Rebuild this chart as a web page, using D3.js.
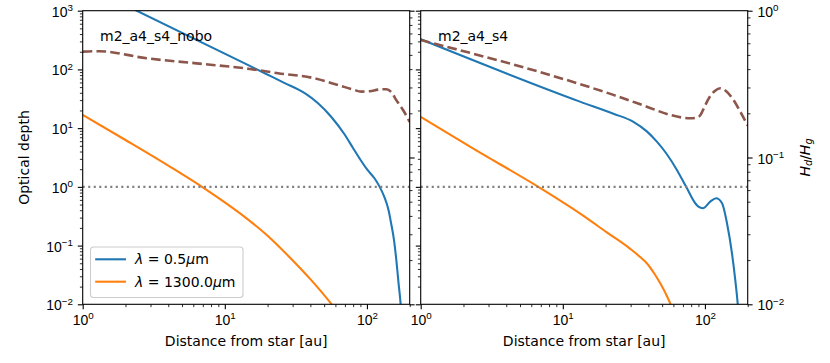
<!DOCTYPE html>
<html>
<head>
<meta charset="utf-8">
<script src="https://cdn.jsdelivr.net/npm/d3@7"></script>
<style>
  body { margin: 0; background: #fff; }
  svg { font-family: "DejaVu Sans", sans-serif; }
</style>
</head>
<body>
<div id="chart"></div>
<script>
// values (distance in au, optical depth, Hd/Hg)
// left panel: m2_a4_s4_nobo
const noboR05    = [1, 13.8, 19.1, 26.4, 36.5, 45.3, 56.2, 69.7, 79.8, 90, 100, 113, 123, 133, 142, 148, 155, 161, 167, 172.5, 176];
const noboTau05  = [2800, 127, 86, 58.5, 39.3, 26.5, 15.5, 7.8, 4.6, 2.9, 2.0, 1.40, 1.0, 0.66, 0.40, 0.24, 0.125, 0.057, 0.0228, 0.0104, 0.005];
const noboR1300  = [1, 2, 4, 7, 10, 14, 20, 28, 40, 56, 64];
const noboTau1300 = [16.8, 6.28, 2.30, 0.982, 0.545, 0.30, 0.147, 0.0666, 0.0268, 0.0103, 0.0069];
const noboRH     = [1, 1.3, 2.82, 6.33, 15, 23.7, 40.7, 62.5, 80, 91.4, 105, 120, 137, 150, 161, 180, 200];
const noboHdHg   = [0.526, 0.53, 0.474, 0.438, 0.401, 0.375, 0.350, 0.312, 0.29, 0.281, 0.283, 0.29, 0.292, 0.275, 0.246, 0.21, 0.175];

// right panel: m2_a4_s4
const boR05      = [1, 13.2, 22.7, 31.4, 39, 45.9, 54, 63.5, 73.8, 85.5, 90, 96.8, 109, 120, 132, 143, 155, 163.5, 170, 174];
const boTau05    = [326, 28.3, 17.6, 12.8, 8.8, 5.88, 3.59, 1.94, 1.0, 0.526, 0.46, 0.432, 0.56, 0.64, 0.526, 0.24, 0.074, 0.026, 0.0104, 0.005];
const boR1300    = [1, 2.41, 6.73, 13.5, 20.4, 29.8, 35, 39, 44, 48.5, 53, 57, 62];
const boTau1300  = [15.5, 4.3, 1.0, 0.34, 0.168, 0.088, 0.064, 0.05, 0.0335, 0.0228, 0.0152, 0.0104, 0.006];
const boRH       = [1, 14.4, 22.7, 39, 57, 78.8, 88, 93, 100, 108.5, 118, 128, 140, 159, 180, 200];
const boHdHg     = [0.631, 0.308, 0.267, 0.222, 0.195, 0.185, 0.187, 0.195, 0.225, 0.26, 0.285, 0.296, 0.285, 0.246, 0.20, 0.165];

const xTicks = [1, 10, 100];
const yTicks = [1e-2, 1e-1, 1, 10, 100, 1000];
const y2Ticks = [1e-2, 1e-1, 1];
const tauOne = 1;

const W = 830, H = 363;
const padT = 10.7, ph = 293.6, pw = 327;
const blue = "#1f77b4", orange = "#ff7f0e", brown = "#8c564b";

const svg = d3.select("#chart").append("svg")
  .attr("width", W).attr("height", H);

const x = d3.scaleLog().domain([1, 200]).range([0, pw]);
const y = d3.scaleLog().domain([1e-2, 1e3]).range([ph, 0]);
const y2 = d3.scaleLog().domain([1e-2, 1]).range([ph, 0]);

// minor tick positions 2..9 per decade
function minors(lo, hi) {
  const out = [];
  for (let d = lo; d < hi; d *= 10)
    for (let k = 2; k <= 9; k++) if (k * d <= hi * 1.0001) out.push(k * d);
  return out;
}

function pow10(sel) {
  sel.each(function(d) {
    const e = Math.round(Math.log10(d));
    const t = d3.select(this).text(null);
    t.append("tspan").text("10");
    t.append("tspan").attr("dy", -5.8).attr("font-size", 9.8)
      .text(e < 0 ? "\u2212" + (-e) : e);
  });
}

function ticks(g, axis, vals, size, width) {
  g.call(axis.tickValues(vals).tickSize(size).tickPadding(4.9).tickFormat(() => ""));
  g.select(".domain").remove();
  g.selectAll(".tick line").attr("stroke", "#000").attr("stroke-width", width);
}

const panels = [
  { x0: 82.7, name: "m2_a4_s4_nobo", r05: noboR05, t05: noboTau05, r13: noboR1300, t13: noboTau1300, rh: noboRH, hh: noboHdHg, left: true },
  { x0: 420.7, name: "m2_a4_s4", r05: boR05, t05: boTau05, r13: boR1300, t13: boTau1300, rh: boRH, hh: boHdHg, left: false }
];

panels.forEach((p, i) => {
  const g = svg.append("g").attr("transform", `translate(${p.x0},${padT})`);

  g.append("clipPath").attr("id", "clip" + i)
    .append("rect").attr("width", pw).attr("height", ph);

  const plot = g.append("g").attr("clip-path", `url(#clip${i})`);

  const line = d3.line().x(d => x(d[0])).y(d => y(d[1])).curve(d3.curveMonotoneX);
  const line2 = d3.line().x(d => x(d[0])).y(d => y2(d[1])).curve(d3.curveMonotoneX);

  plot.append("path").datum(p.r05.map((r, j) => [r, p.t05[j]]))
    .attr("d", line).attr("fill", "none").attr("stroke", blue).attr("stroke-width", 2.08);
  plot.append("path").datum(p.r13.map((r, j) => [r, p.t13[j]]))
    .attr("d", line).attr("fill", "none").attr("stroke", orange).attr("stroke-width", 2.08);
  plot.append("line")
    .attr("x1", 0).attr("x2", pw).attr("y1", y(tauOne)).attr("y2", y(tauOne))
    .attr("stroke", "gray").attr("stroke-width", 2.08).attr("stroke-dasharray", "2.08,3.43");
  plot.append("path").datum(p.rh.map((r, j) => [r, p.hh[j]]))
    .attr("d", line2).attr("fill", "none").attr("stroke", brown).attr("stroke-width", 2.6)
    .attr("stroke-dasharray", "9.6,4.2");

  // axes
  const xb = g.append("g").attr("transform", `translate(0,${ph})`);
  ticks(xb.append("g"), d3.axisBottom(x), minors(1, 200), 2.8, 0.83);
  const xm = xb.append("g");
  ticks(xm, d3.axisBottom(x), xTicks, 4.9, 1.1);
  xm.selectAll(".tick text").attr("dy", null).attr("y", 20.5)
    .attr("font-size", 14).attr("fill", "#000").call(pow10);

  const yl = g.append("g");
  ticks(yl.append("g"), d3.axisLeft(y), minors(1e-2, 1e3), 2.8, 0.83);
  const ylm = yl.append("g");
  ticks(ylm, d3.axisLeft(y), yTicks, 4.9, 1.1);
  if (p.left) {
    ylm.selectAll(".tick text").attr("dy", null).attr("y", 5.5)
      .attr("font-size", 14).attr("fill", "#000").call(pow10);
  } else {
    ylm.selectAll(".tick text").remove();
  }

  const yr = g.append("g").attr("transform", `translate(${pw},0)`);
  ticks(yr.append("g"), d3.axisRight(y2), minors(1e-2, 1), 2.8, 0.83);
  const yrm = yr.append("g");
  ticks(yrm, d3.axisRight(y2), y2Ticks, 4.9, 1.1);
  if (!p.left) {
    yrm.selectAll(".tick text").attr("dy", null).attr("y", 5.5)
      .attr("font-size", 14).attr("fill", "#000").call(pow10);
  } else {
    yrm.selectAll(".tick text").remove();
  }

  g.append("rect").attr("width", pw).attr("height", ph)
    .attr("fill", "none").attr("stroke", "#000").attr("stroke-width", 1.1);

  g.append("text").attr("x", 17.3).attr("y", 30.3).attr("font-size", 14).text(p.name);

  g.append("text").attr("x", pw / 2).attr("y", ph + 41.5)
    .attr("text-anchor", "middle").attr("font-size", 14).text("Distance from star [au]");

  if (p.left) {
    svg.append("text").attr("transform", `translate(${p.x0 - 53.5},${padT + ph / 2}) rotate(-90)`)
      .attr("text-anchor", "middle").attr("font-size", 14).text("Optical depth");

    // legend
    const lg = g.append("g").attr("transform", "translate(7.8,236.3)");
    lg.append("rect").attr("width", 152.5).attr("height", 50.5).attr("rx", 3)
      .attr("fill", "#fff").attr("fill-opacity", 0.8)
      .attr("stroke", "#ccc").attr("stroke-width", 1.1);
    const items = [["0.5", blue], ["1300.0", orange]];
    items.forEach((it, k) => {
      const ly = 12.3 + k * 22.4;
      lg.append("line").attr("x1", 4.7).attr("x2", 35.5).attr("y1", ly).attr("y2", ly)
        .attr("stroke", it[1]).attr("stroke-width", 2.08);
      const t = lg.append("text").attr("x", 44.5).attr("y", ly + 5).attr("font-size", 14);
      t.append("tspan").attr("font-style", "italic").text("\u03bb");
      t.append("tspan").text(" = " + it[0]);
      t.append("tspan").attr("font-style", "italic").text("\u03bc");
      t.append("tspan").text("m");
    });
  } else {
    const lab = svg.append("text")
      .attr("transform", `translate(${p.x0 + pw + 62},${padT + ph / 2}) rotate(-90)`)
      .attr("text-anchor", "middle").attr("font-size", 14).attr("font-style", "italic");
    lab.append("tspan").text("H");
    lab.append("tspan").attr("font-size", 9.8).attr("dy", 2.5).text("d");
    lab.append("tspan").attr("dy", -2.5).attr("font-style", "normal").text("/");
    lab.append("tspan").text("H");
    lab.append("tspan").attr("font-size", 9.8).attr("dy", 2.5).text("g");
  }
});
</script>
</body>
</html>
